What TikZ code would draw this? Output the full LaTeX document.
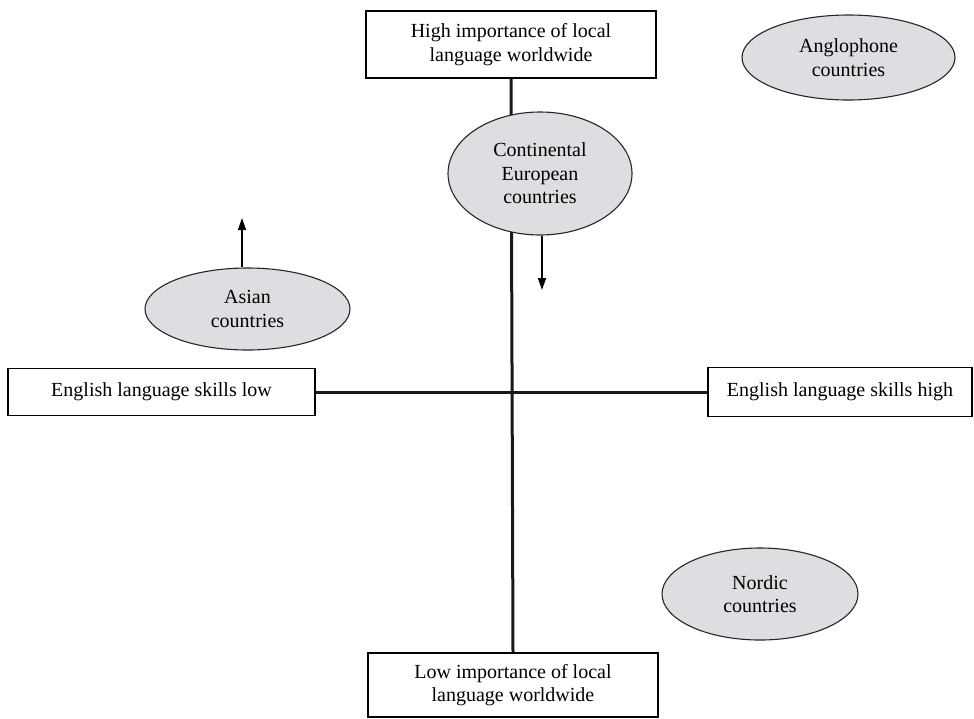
\documentclass[tikz,border=0pt]{standalone}
\usepackage{fontspec}
\setmainfont{Liberation Serif}
\usetikzlibrary{arrows.meta,shapes.geometric}
\definecolor{ellfill}{HTML}{DDDEE1}
\begin{document}
\begin{tikzpicture}[x=1pt,y=-1pt,
  every node/.style={font=\fontsize{20}{23.5}\selectfont, align=center, inner sep=0pt},
  axisbox/.style={draw=black, line width=1.3pt, rectangle, fill=white},
  region/.style={draw=black!85, line width=1.1pt, ellipse, fill=ellfill},
  axisline/.style={line width=3pt, black!90},
  movearrow/.style={line width=1.4pt, -{Triangle[length=12pt,width=8pt]}}]
\useasboundingbox (0,0) rectangle (974,718);
% boxes
\node[axisbox, minimum width=290pt, minimum height=67pt] (top) at (511,44.5)
  {High importance of local\\language worldwide};
\node[axisbox, minimum width=290pt, minimum height=64pt] (bottom) at (513,685)
  {Low importance of local\\language worldwide};
\node[axisbox, minimum width=307pt, minimum height=47pt] (left) at (161.5,392)
  {English language skills low};
\node[axisbox, minimum width=264pt, minimum height=49pt] (right) at (840,392)
  {English language skills high};
% axes
\draw[axisline] (top.south) -- (bottom.north);
\draw[axisline] (left.east) -- (right.west);
% country groups
\node[region, minimum width=213pt, minimum height=85pt] (anglo) at (848.5,57.5)
  {Anglophone\\countries};
\node[region, minimum width=184pt, minimum height=123pt] (conti) at (540,173.5)
  {Continental\\European\\countries};
\node[region, minimum width=205pt, minimum height=82pt] (asian) at (247.5,309)
  {Asian\\countries};
\node[region, minimum width=196pt, minimum height=92pt] (nordic) at (760,594)
  {Nordic\\countries};
% shifts
\coordinate (asiantip) at (242,218);
\coordinate (contitip) at (542,290);
\draw[movearrow] (asiantip |- asian.north) -- (asiantip);
\draw[movearrow] (contitip |- conti.south) -- (contitip);
\end{tikzpicture}
\end{document}
